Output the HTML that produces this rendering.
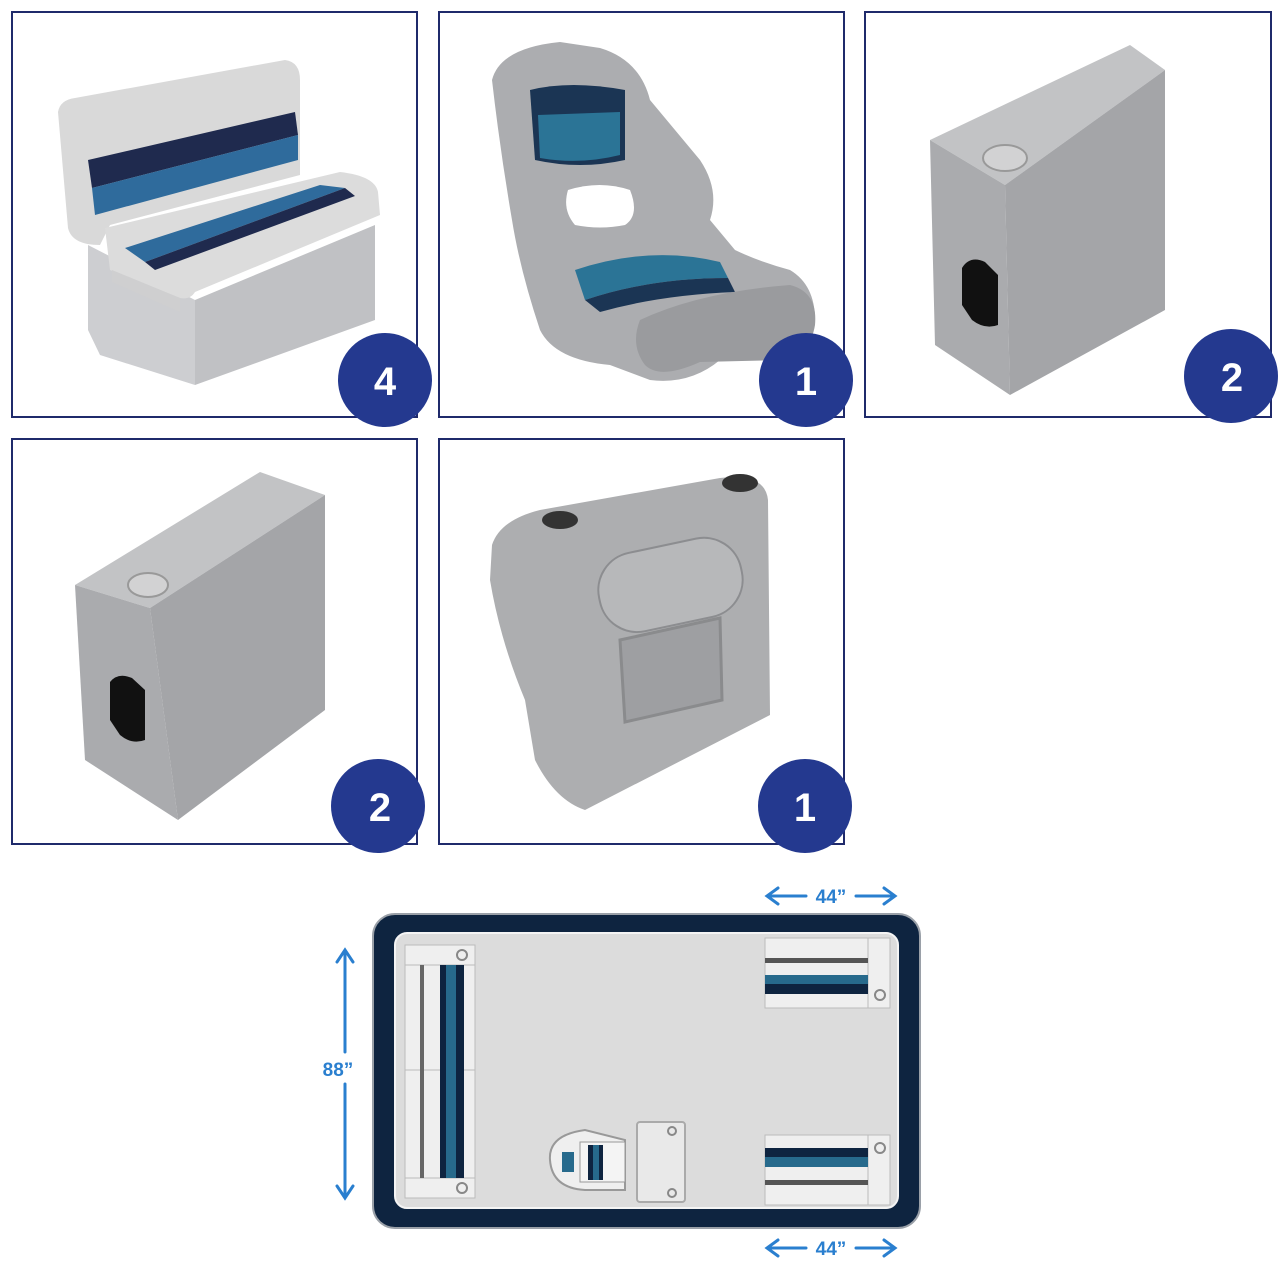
<!DOCTYPE html>
<html><head><style>
html,body{margin:0;padding:0;background:#fff;}
svg{display:block;font-family:"Liberation Sans",sans-serif;}
</style></head><body>
<svg width="1280" height="1280" viewBox="0 0 1280 1280" xmlns="http://www.w3.org/2000/svg">
<g fill="none" stroke="#1f2a6b" stroke-width="2">
<rect x="12" y="12" width="405" height="405"/>
<rect x="439" y="12" width="405" height="405"/>
<rect x="865" y="12" width="406" height="405"/>
<rect x="12" y="439" width="405" height="405"/>
<rect x="439" y="439" width="405" height="405"/>
</g>

<!-- Bench -->
<polygon points="88,245 195,300 195,385 100,355 88,330" fill="#cdced1"/>
<polygon points="195,300 375,225 375,320 195,385" fill="#c0c1c4"/>
<path d="M58,112 Q60,100 75,98 L285,60 Q300,62 300,80 L300,175 L110,225 L100,245 Q72,245 68,228 Z" fill="#d9d9d9"/>
<polygon points="88,160 295,112 298,135 92,188" fill="#1f2a4e"/>
<polygon points="92,188 298,135 298,160 95,215" fill="#2f6b9c"/>
<path d="M105,228 L340,172 Q375,176 378,192 L380,215 L195,292 Q190,300 180,298 L110,270 Z" fill="#dcdcdc"/>
<polygon points="125,248 320,185 345,188 145,262" fill="#2f6b9c"/>
<polygon points="145,262 345,188 355,196 155,270" fill="#1f2a4e"/>
<polygon points="112,270 180,298 180,312 112,282" fill="#cfcfd0"/>

<!-- Chair -->
<path d="M492,80 Q500,48 560,42 L600,48 Q640,60 650,100 L700,160 Q720,190 710,220 L735,250 Q760,262 790,270 Q815,285 815,320 Q812,350 790,358 L720,360 Q690,385 650,380 L610,365 Q555,360 540,330 Q520,270 512,220 Q500,150 492,80 Z" fill="#acadb0"/>
<path d="M530,90 Q570,80 625,90 L625,160 Q580,170 535,160 Z" fill="#1b3554"/>
<path d="M538,115 L620,112 L620,155 Q580,165 540,158 Z" fill="#2b7496"/>
<path d="M568,190 Q600,180 630,190 Q640,215 625,225 Q600,230 575,225 Q562,210 568,190 Z" fill="#fff"/>
<path d="M575,270 Q650,245 720,262 L728,278 Q650,278 585,300 Z" fill="#2b7496"/>
<path d="M585,300 Q650,278 728,278 L735,292 Q660,295 600,312 Z" fill="#1b3554"/>
<path d="M640,320 Q700,292 790,285 Q818,292 815,325 Q810,355 785,360 L700,362 Q660,380 645,365 Q630,345 640,320 Z" fill="#9a9b9e"/>

<!-- Box panel 3 -->
<polygon points="930,140 1130,45 1165,70 1005,185" fill="#c2c3c5"/>
<polygon points="930,140 1005,185 1010,395 935,345" fill="#aaabae"/>
<polygon points="1005,185 1165,70 1165,310 1010,395" fill="#a4a5a8"/>
<ellipse cx="1005" cy="158" rx="22" ry="13" fill="#d2d2d3" stroke="#999" stroke-width="2"/>
<path d="M962,268 Q970,255 985,262 L998,275 L998,325 Q985,330 972,320 L962,305 Z" fill="#111"/>

<!-- Box panel 4 -->
<polygon points="75,585 260,472 325,495 150,608" fill="#c2c3c5"/>
<polygon points="75,585 150,608 178,820 85,760" fill="#aaabae"/>
<polygon points="150,608 325,495 325,710 178,820" fill="#a4a5a8"/>
<ellipse cx="148" cy="585" rx="20" ry="12" fill="#d2d2d3" stroke="#999" stroke-width="2"/>
<path d="M110,682 Q118,672 132,678 L145,690 L145,740 Q132,745 120,735 L110,720 Z" fill="#111"/>

<!-- Console panel 5 -->
<path d="M492,545 Q500,520 540,510 L720,478 Q765,472 768,500 L770,715 L585,810 Q555,800 535,760 L525,700 Q500,640 490,580 Z" fill="#adaeb0"/>
<rect x="598" y="545" width="145" height="80" rx="38" transform="rotate(-12 670 585)" fill="#b7b8ba" stroke="#8c8d90" stroke-width="2"/>
<polygon points="620,640 720,618 722,700 625,722" fill="#9e9fa2" stroke="#8a8b8d" stroke-width="3"/>
<ellipse cx="560" cy="520" rx="18" ry="9" fill="#333"/>
<ellipse cx="740" cy="483" rx="18" ry="9" fill="#333"/>

<!-- Badges -->
<g fill="#24398f">
<circle cx="385" cy="380" r="47"/>
<circle cx="806" cy="380" r="47"/>
<circle cx="1231" cy="376" r="47"/>
<circle cx="378" cy="806" r="47"/>
<circle cx="805" cy="806" r="47"/>
</g>
<g fill="#fff" font-size="40" font-weight="bold" text-anchor="middle">
<text x="385" y="395">4</text>
<text x="806" y="395">1</text>
<text x="1232" y="391">2</text>
<text x="380" y="821">2</text>
<text x="805" y="821">1</text>
</g>

<!-- Layout diagram -->
<rect x="373" y="914" width="547" height="314" rx="22" fill="#0e2440" stroke="#9aa0a8" stroke-width="2"/>
<rect x="395" y="933" width="503" height="275" rx="12" fill="#dcdcdc" stroke="#f4f4f4" stroke-width="2"/>
<rect x="405" y="945" width="70" height="253" fill="#efefef" stroke="#bbb"/>
<line x1="405" y1="965" x2="475" y2="965" stroke="#bbb"/>
<line x1="405" y1="1178" x2="475" y2="1178" stroke="#bbb"/>
<line x1="405" y1="1070" x2="475" y2="1070" stroke="#bbb"/>
<rect x="420" y="965" width="4" height="213" fill="#666"/>
<rect x="440" y="965" width="6" height="213" fill="#0e2440"/>
<rect x="446" y="965" width="10" height="213" fill="#276a8c"/>
<rect x="456" y="965" width="8" height="213" fill="#0e2440"/>
<circle cx="462" cy="955" r="5" fill="none" stroke="#888" stroke-width="2"/>
<circle cx="462" cy="1188" r="5" fill="none" stroke="#888" stroke-width="2"/>
<rect x="765" y="938" width="125" height="70" fill="#efefef" stroke="#bbb"/>
<line x1="868" y1="938" x2="868" y2="1008" stroke="#bbb"/>
<rect x="765" y="958" width="103" height="5" fill="#555"/>
<rect x="765" y="975" width="103" height="9" fill="#276a8c"/>
<rect x="765" y="984" width="103" height="10" fill="#0e2440"/>
<circle cx="880" cy="995" r="5" fill="none" stroke="#888" stroke-width="2"/>
<rect x="765" y="1135" width="125" height="70" fill="#efefef" stroke="#bbb"/>
<line x1="868" y1="1135" x2="868" y2="1205" stroke="#bbb"/>
<rect x="765" y="1148" width="103" height="9" fill="#0e2440"/>
<rect x="765" y="1157" width="103" height="10" fill="#276a8c"/>
<rect x="765" y="1180" width="103" height="5" fill="#555"/>
<circle cx="880" cy="1148" r="5" fill="none" stroke="#888" stroke-width="2"/>
<path d="M585,1130 Q548,1135 550,1160 Q552,1188 585,1190 L625,1190 L625,1140 Z" fill="#efefef" stroke="#999" stroke-width="2"/>
<rect x="580" y="1142" width="45" height="40" fill="#f4f4f4" stroke="#999"/>
<rect x="588" y="1145" width="5" height="35" fill="#0e2440"/>
<rect x="593" y="1145" width="6" height="35" fill="#276a8c"/>
<rect x="599" y="1145" width="4" height="35" fill="#0e2440"/>
<rect x="562" y="1152" width="12" height="20" fill="#276a8c"/>
<rect x="637" y="1122" width="48" height="80" rx="3" fill="#e9e9e9" stroke="#aaa" stroke-width="2"/>
<circle cx="672" cy="1131" r="4" fill="none" stroke="#888" stroke-width="2"/>
<circle cx="672" cy="1193" r="4" fill="none" stroke="#888" stroke-width="2"/>
<g stroke="#2a7fcf" stroke-width="3" fill="none" stroke-linecap="round">
<line x1="345" y1="952" x2="345" y2="1052"/>
<line x1="345" y1="1084" x2="345" y2="1196"/>
<polyline points="337,962 345,950 353,962"/>
<polyline points="337,1186 345,1198 353,1186"/>
<line x1="768" y1="896" x2="806" y2="896"/>
<line x1="856" y1="896" x2="894" y2="896"/>
<polyline points="778,888 767,896 778,904"/>
<polyline points="884,888 895,896 884,904"/>
<line x1="768" y1="1248" x2="806" y2="1248"/>
<line x1="856" y1="1248" x2="894" y2="1248"/>
<polyline points="778,1240 767,1248 778,1256"/>
<polyline points="884,1240 895,1248 884,1256"/>
</g>
<g fill="#2a7fcf" font-size="19" font-weight="bold" text-anchor="middle">
<text x="338" y="1076">88”</text>
<text x="831" y="903">44”</text>
<text x="831" y="1255">44”</text>
</g>
</svg>
</body></html>
